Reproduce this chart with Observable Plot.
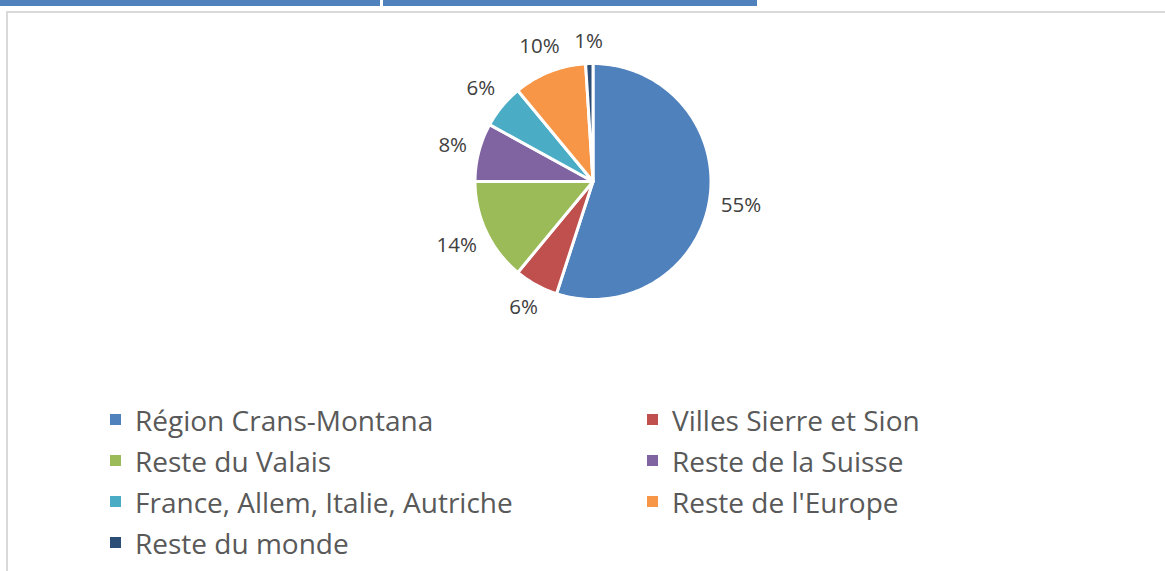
<!DOCTYPE html>
<html>
<head>
<meta charset="utf-8">
<script src="https://cdn.jsdelivr.net/npm/d3@7"></script>
<script src="https://cdn.jsdelivr.net/npm/@observablehq/plot@0.6"></script>
<style>
  html, body { margin: 0; padding: 0; background: #fff; }
  #page { position: relative; width: 1165px; height: 571px; overflow: hidden; font-family: "Open Sans", "Noto Sans", sans-serif; }
  .bar { position: absolute; top: 0; height: 6px; background: #4f81bd; }
  #frameTop { position: absolute; left: 6px; top: 11px; right: 0; height: 2px; background: #d9d9d9; }
  #frameLeft { position: absolute; left: 6px; top: 11px; bottom: 0; width: 2px; background: #d9d9d9; }
  #chart { position: absolute; left: 0; top: 0; }
  #legend { position: absolute; left: 110px; top: 399px; display: grid; grid-template-columns: 537px 420px; grid-auto-rows: 41px; color: #595959; font-size: 28px; }
  .item { display: flex; align-items: center; white-space: nowrap; }
  .sw { width: 11px; height: 11px; margin-right: 14px; flex: none; }
</style>
</head>
<body>
<div id="page">
  <div class="bar" style="left:0;width:380px"></div>
  <div class="bar" style="left:383px;width:374px"></div>
  <div id="frameTop"></div>
  <div id="frameLeft"></div>
  <div id="chart"></div>
  <div id="legend"></div>
</div>
<script>
const categories = ["Région Crans-Montana", "Villes Sierre et Sion", "Reste du Valais", "Reste de la Suisse", "France, Allem, Italie, Autriche", "Reste de l'Europe", "Reste du monde"];
const values = [55, 6, 14, 8, 6, 10, 1];
const colors = ["#4f81bd", "#c0504d", "#9bbb59", "#8064a2", "#4bacc6", "#f79646", "#2c4d75"];

const R = 118, cx = 592.5, cy = 181;
const labelSize = 20.5;

const total = d3.sum(values);
const slices = [];
const labels = [];
let acc = 0;
values.forEach((v, i) => {
  const a0 = acc / total * 2 * Math.PI;
  const a1 = (acc + v) / total * 2 * Math.PI;
  acc += v;
  const n = Math.max(4, Math.ceil(v * 3));
  slices.push({cat: categories[i], x: 0, y: 0});
  for (let k = 0; k <= n; k++) {
    const a = a0 + (a1 - a0) * k / n;
    slices.push({cat: categories[i], x: Math.sin(a), y: Math.cos(a)});
  }
  // label placed outside the slice, with its box clearing the rim
  const am = (a0 + a1) / 2;
  const text = Math.round(v / total * 100) + "%";
  const w = text.length * labelSize * 0.55, h = labelSize * 0.75;
  const dist = (R + 14 + Math.abs(Math.sin(am)) * w / 2 + Math.abs(Math.cos(am)) * h / 2) / R;
  labels.push({text, x: dist * Math.sin(am), y: dist * Math.cos(am)});
});

const chart = Plot.plot({
  width: 1165,
  height: 390,
  margin: 0,
  x: {domain: [-1, 1], range: [cx - R, cx + R], axis: null},
  y: {domain: [-1, 1], range: [cy + R, cy - R], axis: null},
  color: {domain: categories, range: colors},
  style: {background: "transparent", fontFamily: "'Open Sans', 'Noto Sans', sans-serif"},
  marks: [
    Plot.line(slices, {x: "x", y: "y", z: "cat", fill: "cat", stroke: "white", strokeWidth: 3, strokeLinejoin: "round", curve: "linear-closed"}),
    Plot.text(labels, {x: "x", y: "y", text: "text", fill: "#404040", fontSize: labelSize})
  ]
});
document.getElementById("chart").appendChild(chart);

const legend = document.getElementById("legend");
categories.forEach((c, i) => {
  const item = document.createElement("div");
  item.className = "item";
  const sw = document.createElement("span");
  sw.className = "sw";
  sw.style.background = colors[i];
  const t = document.createElement("span");
  t.textContent = c;
  item.appendChild(sw);
  item.appendChild(t);
  legend.appendChild(item);
});
</script>
</body>
</html>
